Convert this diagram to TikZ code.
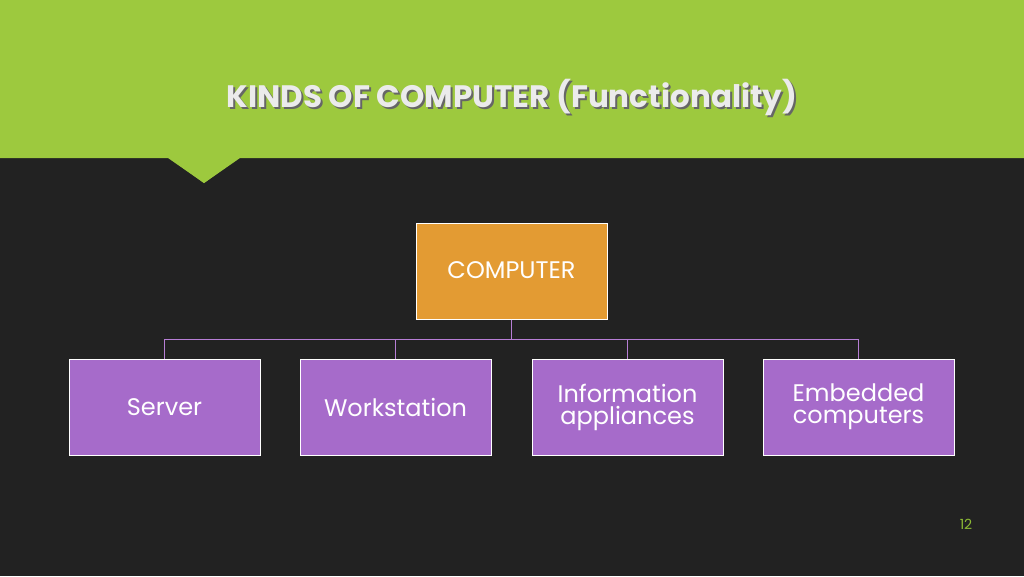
\documentclass[tikz,border=0pt]{standalone}
\usepackage{fontspec}
\setmainfont{Poppins}
\definecolor{bggreen}{HTML}{9DC93E}
\definecolor{bgdark}{HTML}{222222}
\definecolor{orangebox}{HTML}{E39B33}
\definecolor{purplebox}{HTML}{A66BCA}
\definecolor{linecol}{HTML}{B77FD6}
\definecolor{numgreen}{HTML}{8DBB34}
\begin{document}
\begin{tikzpicture}[x=1pt,y=-1pt,
  box/.style={draw=white,line width=1pt,minimum width=191pt,minimum height=96pt,inner sep=0pt,text=white,font=\fontsize{24}{28}\selectfont,align=center},
  conn/.style={draw=linecol,line width=1pt}]
\useasboundingbox (0,0) rectangle (1024,576);
\fill[bgdark] (0,0) rectangle (1024,576);
\fill[bggreen] (0,0) rectangle (1024,158) -- (240,158) -- (204,183) -- (168,158) -- (0,158) -- cycle;
\fill[bggreen] (168,157) -- (240,157) -- (204,183) -- cycle;
\node[text=black!60,font=\bfseries\fontsize{31}{36}\selectfont] at (514,99) {KINDS OF COMPUTER (Functionality)};
\node (title) [text=white!92!black,font=\bfseries\fontsize{31}{36}\selectfont] at (512,97) {KINDS OF COMPUTER (Functionality)};
\node (comp) [box,fill=orangebox] at (511.5,271) {};
\node at (511.5,270) [text=white,font=\fontsize{24}{28}\selectfont] {COMPUTER};
\node (s) [box,fill=purplebox] at (164.5,407) {Server};
\node (w) [box,fill=purplebox] at (395.5,407) {Workstation};
\node (i) [box,fill=purplebox] at (627.5,407) {Information\\[-6pt]appliances};
\node (e) [box,fill=purplebox] at (858.5,407) {Embedded\\[-6pt]computers};
\coordinate (j) at (511.5,339);
\draw[conn] (comp.south) -- (j);
\foreach \n in {s,w,i,e} \draw[conn] (j) -| (\n.north);
\node (num) [text=numgreen,font=\fontsize{14}{16}\selectfont] at (966,524) {12};
\end{tikzpicture}
\end{document}
